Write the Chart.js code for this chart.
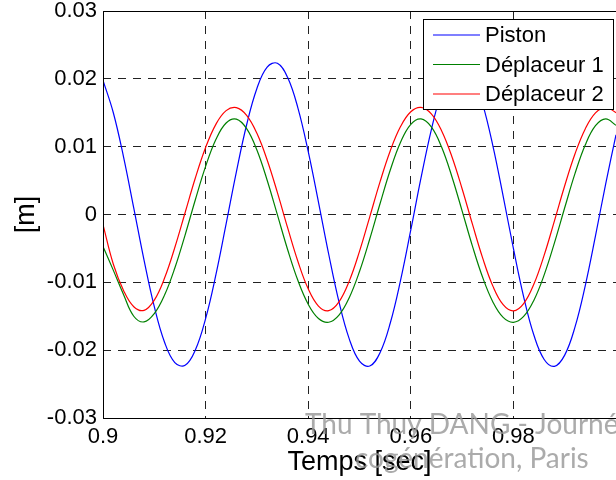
<!DOCTYPE html>
<html lang="fr">
<head>
<meta charset="UTF-8">
<title>Piston et déplaceurs</title>
<script src="https://cdn.jsdelivr.net/npm/chart.js"></script>
<style>
  body { margin: 0; background: #fff; }
  canvas { display: block; }
</style>
</head>
<body>
<canvas id="myChart" width="616" height="480"></canvas>
<script>
// temps [sec], one sample every 2 ms
const temps = [
  0.900, 0.902, 0.904, 0.906, 0.908, 0.910, 0.912, 0.914, 0.916, 0.918,
  0.920, 0.922, 0.924, 0.926, 0.928, 0.930, 0.932, 0.934, 0.936, 0.938,
  0.940, 0.942, 0.944, 0.946, 0.948, 0.950, 0.952, 0.954, 0.956, 0.958,
  0.960, 0.962, 0.964, 0.966, 0.968, 0.970, 0.972, 0.974, 0.976, 0.978,
  0.980, 0.982, 0.984, 0.986, 0.988, 0.990, 0.992, 0.994, 0.996, 0.998,
  1.000
];

// positions [m]
const piston = [
  0.01978, 0.01504, 0.00850, 0.00094, -0.00672, -0.01359, -0.01883, -0.02183, -0.02224, -0.01999,
  -0.01536, -0.00891, -0.00139, 0.00629, 0.01323, 0.01858, 0.02173, 0.02229, 0.02019, 0.01569,
  0.00931, 0.00184, -0.00586, -0.01287, -0.01833, -0.02162, -0.02233, -0.02038, -0.01600, -0.00972,
  -0.00228, 0.00543, 0.01249, 0.01807, 0.02149, 0.02236, 0.02056, 0.01631, 0.01012, 0.00272,
  -0.00500, -0.01213, -0.01780, -0.02137, -0.02238, -0.02073, -0.01661, -0.01051, -0.00316, 0.00456,
  0.01175
];

const deplaceur1 = [
  -0.00470, -0.00820, -0.01180, -0.01500, -0.01584, -0.01461, -0.01188, -0.00789, -0.00303, 0.00218,
  0.00709, 0.01105, 0.01349, 0.01405, 0.01265, 0.00950, 0.00505, -0.00006, -0.00519, -0.00974,
  -0.01323, -0.01533, -0.01588, -0.01483, -0.01226, -0.00840, -0.00361, 0.00158, 0.00656, 0.01066,
  0.01330, 0.01409, 0.01291, 0.00994, 0.00561, 0.00054, -0.00462, -0.00926, -0.01289, -0.01517,
  -0.01590, -0.01503, -0.01263, -0.00890, -0.00419, 0.00099, 0.00602, 0.01025, 0.01309, 0.01410,
  0.01314
];

const deplaceur2 = [
  -0.00150, -0.00730, -0.01120, -0.01360, -0.01413, -0.01262, -0.00937, -0.00487, 0.00026, 0.00538,
  0.00987, 0.01329, 0.01531, 0.01576, 0.01462, 0.01197, 0.00804, 0.00322, -0.00198, -0.00693,
  -0.01096, -0.01350, -0.01418, -0.01288, -0.00982, -0.00544, -0.00034, 0.00481, 0.00940, 0.01296,
  0.01515, 0.01579, 0.01483, 0.01235, 0.00855, 0.00380, -0.00139, -0.00639, -0.01056, -0.01330,
  -0.01420, -0.01313, -0.01025, -0.00599, -0.00094, 0.00424, 0.00892, 0.01262, 0.01498, 0.01580,
  0.01502
];

const seriesLabels = ['Piston', 'Déplaceur 1', 'Déplaceur 2'];
const seriesColors = ['#0000ff', '#008000', '#ff0000'];
const xTickLabels = ['0.9', '0.92', '0.94', '0.96', '0.98', ''];
const yTickLabels = ['-0.03', '-0.02', '-0.01', '0', '0.01', '0.02', '0.03'];
const watermark = ['Thu Thuy DANG - Journée', 'cogénération, Paris'];

const FONT = '"Liberation Sans", Arial, Helvetica, sans-serif';
Chart.defaults.font.family = FONT;
Chart.defaults.color = '#000';

function points(values) {
  return temps.map((t, i) => ({ x: t, y: values[i] }));
}

// axes box, legend in the top right corner, slide text on top
const boxAndLegend = {
  id: 'boxAndLegend',
  afterDatasetsDraw(chart) {
    const { ctx, chartArea: a } = chart;
    const L = Math.round(a.left) + 0.5, T = Math.round(a.top) + 0.5;
    const R = Math.round(a.right) + 0.5, B = Math.round(a.bottom) + 0.5;
    ctx.save();
    ctx.strokeStyle = '#000';
    ctx.lineWidth = 1;
    ctx.setLineDash([]);
    ctx.beginPath();
    ctx.moveTo(R, T);
    ctx.lineTo(L, T);
    ctx.lineTo(L, B);
    ctx.lineTo(R, B);
    ctx.stroke();

    const lw = 190, lh = 90;
    const lx = Math.round(a.right) - 193, ly = Math.round(a.top) + 8;
    ctx.fillStyle = '#fff';
    ctx.fillRect(lx, ly, lw, lh);
    ctx.strokeRect(lx + 0.5, ly + 0.5, lw, lh);
    ctx.font = '22px ' + FONT;
    ctx.textBaseline = 'middle';
    chart.data.datasets.forEach((ds, i) => {
      const y = ly + 16 + i * 29.5;
      ctx.strokeStyle = ds.borderColor;
      ctx.lineWidth = 1.2;
      ctx.beginPath();
      ctx.moveTo(lx + 10, y);
      ctx.lineTo(lx + 57, y);
      ctx.stroke();
      ctx.fillStyle = '#000';
      ctx.fillText(ds.label, lx + 62, y + 1);
    });
    ctx.restore();
  },
  afterDraw(chart) {
    const ctx = chart.ctx;
    ctx.save();
    ctx.font = '28px Lato, "Open Sans", sans-serif';
    ctx.fillStyle = 'rgba(150,150,150,0.8)';
    ctx.textBaseline = 'alphabetic';
    ctx.fillText(watermark[0], 305, 434);
    ctx.fillText(watermark[1], 355, 468);
    ctx.restore();
  }
};

const gridStyle = { color: '#222', lineWidth: 1, drawTicks: false };
const borderStyle = { display: false, dash: [8, 7] };

new Chart(document.getElementById('myChart').getContext('2d'), {
  type: 'line',
  data: {
    datasets: [
      { label: seriesLabels[0], data: points(piston), borderColor: seriesColors[0], order: 3 },
      { label: seriesLabels[1], data: points(deplaceur1), borderColor: seriesColors[1], order: 2 },
      { label: seriesLabels[2], data: points(deplaceur2), borderColor: seriesColors[2], order: 1 }
    ]
  },
  options: {
    responsive: false,
    animation: false,
    layout: { padding: { top: 11, left: 0, right: 0, bottom: 0 } },
    elements: {
      point: { radius: 0 },
      line: { borderWidth: 1.2, tension: 0.4, fill: false }
    },
    plugins: {
      legend: { display: false },
      tooltip: { enabled: false }
    },
    scales: {
      x: {
        type: 'linear',
        min: 0.9,
        max: 1.0,
        ticks: {
          stepSize: 0.02,
          padding: 6,
          maxRotation: 0,
          autoSkip: false,
          font: { size: 22 },
          callback: (v, i) => xTickLabels[i]
        },
        grid: gridStyle,
        border: borderStyle,
        title: { display: true, text: 'Temps [sec]', font: { size: 27 }, padding: { top: 0, bottom: 1 } },
        afterFit(scale) {
          scale.height = 62;
          scale.paddingLeft = 0;
          scale.paddingRight = 0;
        }
      },
      y: {
        min: -0.03,
        max: 0.03,
        ticks: {
          stepSize: 0.01,
          padding: 6,
          font: { size: 22 },
          callback: (v, i) => yTickLabels[i]
        },
        grid: gridStyle,
        border: borderStyle,
        title: { display: true, text: '[m]', font: { size: 27 }, padding: { top: 10, bottom: 0 } },
        afterFit(scale) {
          scale.width = 103;
          scale.paddingTop = 0;
          scale.paddingBottom = 0;
        }
      }
    }
  },
  plugins: [boxAndLegend]
});
</script>
</body>
</html>
